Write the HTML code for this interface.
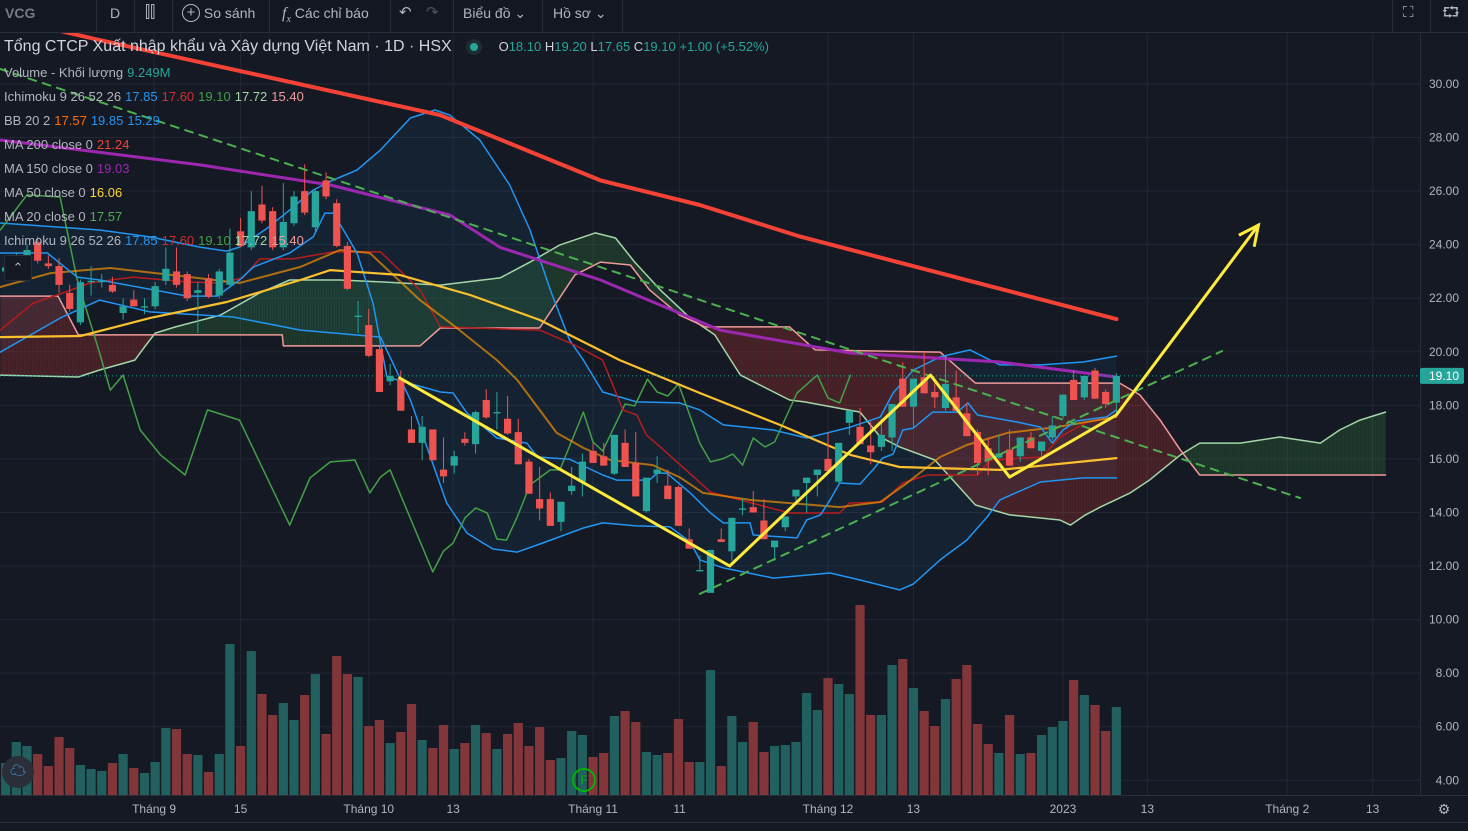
<!DOCTYPE html>
<html><head><meta charset="utf-8">
<style>
html,body{margin:0;padding:0;background:#151924;width:1468px;height:831px;overflow:hidden;font-family:"Liberation Sans","Noto Sans CJK SC",sans-serif;}
#root{position:relative;width:1468px;height:831px;}
svg{position:absolute;left:0;top:0;}
.tb{position:absolute;top:0;height:32px;line-height:26px;color:#b2b5be;font-size:14px;}
.sep{position:absolute;top:0;width:1px;height:32px;background:#2a2e39;}
.lg{position:absolute;left:4px;font-size:13px;color:#b2b5be;white-space:nowrap;}
.lg span{margin-left:4px;}
</style></head>
<body><div id="root">
<svg id="chart" width="1468" height="831"></svg>

<div style="position:absolute;left:0;top:0;width:1468px;height:32px;background:#131722;border-bottom:1px solid #2a2e39;"></div>
<div class="tb" style="left:5px;font-weight:bold;color:#787b86;font-size:14px;">VCG</div>
<div class="sep" style="left:96px"></div>
<div class="tb" style="left:110px;">D</div>
<div class="sep" style="left:134px"></div>
<div class="tb" style="left:145px;font-size:16px;">&#x2AFF;&#x2AFF;</div>
<div class="sep" style="left:172px"></div>
<div class="tb" style="left:182px;"><span style="display:inline-block;width:16px;height:16px;border:1px solid #b2b5be;border-radius:50%;line-height:15px;text-align:center;font-size:15px;vertical-align:middle;margin-top:-3px;">+</span> So sánh</div>
<div class="sep" style="left:269px"></div>
<div class="tb" style="left:282px;"><i style="font-family:'Liberation Serif',serif;font-size:16px;">f<sub style="font-size:10px">x</sub></i> Các chỉ báo</div>
<div class="sep" style="left:390px"></div>
<div class="tb" style="left:399px;font-size:15px;">&#x21B6;</div>
<div class="tb" style="left:426px;font-size:15px;color:#50535e;">&#x21B7;</div>
<div class="sep" style="left:453px"></div>
<div class="tb" style="left:463px;">Biểu đồ &#x2304;</div>
<div class="sep" style="left:542px"></div>
<div class="tb" style="left:553px;">Hồ sơ &#x2304;</div>
<div class="sep" style="left:622px"></div>
<div class="sep" style="left:1392px"></div>
<div class="tb" style="left:1403px;font-size:15px;">&#x26F6;</div>
<div class="sep" style="left:1430px"></div>
<div class="tb" style="left:1442px;font-size:15px;">&#x2B94;</div>

<div class="lg" style="top:38px;font-size:16px;color:#d1d4dc;">Tổng CTCP Xuất nhập khẩu và Xây dựng Việt Nam · 1D · HSX
 <span style="display:inline-block;width:16px;height:16px;border-radius:50%;background:#1e2d33;vertical-align:middle;margin-left:10px;position:relative;"><span style="position:absolute;left:4px;top:4px;width:8px;height:8px;border-radius:50%;background:#26a69a;margin:0"></span></span>
 <span style="font-size:13px;margin-left:12px;color:#d1d4dc">O<b style="color:#26a69a;font-weight:normal">18.10</b> H<b style="color:#26a69a;font-weight:normal">19.20</b> L<b style="color:#26a69a;font-weight:normal">17.65</b> C<b style="color:#26a69a;font-weight:normal">19.10</b> <b style="color:#26a69a;font-weight:normal">+1.00 (+5.52%)</b></span></div>
<div class="lg" style="top:65px;">Volume - Khối lượng<span style="color:#26a69a">9.249M</span></div>
<div class="lg" style="top:89px;">Ichimoku 9 26 52 26<span style="color:#2196f3">17.85</span><span style="color:#d32f2f">17.60</span><span style="color:#43a047">19.10</span><span style="color:#a5d6a7">17.72</span><span style="color:#ef9a9a">15.40</span></div>
<div class="lg" style="top:113px;">BB 20 2<span style="color:#ff6d00">17.57</span><span style="color:#2196f3">19.85</span><span style="color:#2196f3">15.29</span></div>
<div class="lg" style="top:137px;">MA 200 close 0<span style="color:#f44336">21.24</span></div>
<div class="lg" style="top:161px;">MA 150 close 0<span style="color:#9c27b0">19.03</span></div>
<div class="lg" style="top:185px;">MA 50 close 0<span style="color:#fdd835">16.06</span></div>
<div class="lg" style="top:209px;">MA 20 close 0<span style="color:#4caf50">17.57</span></div>
<div class="lg" style="top:233px;">Ichimoku 9 26 52 26<span style="color:#2196f3">17.85</span><span style="color:#d32f2f">17.60</span><span style="color:#43a047">19.10</span><span style="color:#a5d6a7">17.72</span><span style="color:#ef9a9a">15.40</span></div>
<div style="position:absolute;left:4px;top:255px;width:26px;height:24px;border:1px solid #2a2e39;border-radius:3px;background:#151924;color:#b2b5be;font-size:13px;text-align:center;line-height:24px;">&#x2303;</div>
<div style="position:absolute;left:2px;top:756px;width:32px;height:32px;border-radius:50%;background:#2a2e39;color:#42a5f5;text-align:center;line-height:32px;font-size:16px;">&#x2601;</div>
<div style="position:absolute;left:572px;top:768px;width:20px;height:20px;border:2px solid #00b300;border-radius:50%;color:#00b300;font-size:12px;text-align:center;line-height:20px;">F</div>

<script>
// ---- data ----
const firstIndex = -2;
const candles = [
[23.0,23.3,22.9,23.15],[23.3,23.7,23.1,23.5],
[23.5,24.0,23.3,23.8],[24.1,24.3,23.3,23.4],[23.3,23.6,23.1,23.2],[23.2,23.5,22.2,22.5],[22.2,22.5,21.5,21.6],
[21.1,22.7,21.0,22.6],[22.6,23.2,22.1,22.65],[22.6,22.9,22.4,22.65],[22.5,22.8,22.2,22.25],[21.45,22.0,21.2,21.7],
[21.95,22.3,21.7,21.7],[21.65,22.0,21.4,21.7],[21.7,22.6,21.6,22.45],[22.65,23.9,22.5,23.1],[23.0,23.9,22.4,22.5],
[22.9,23.0,21.9,22.0],[22.2,22.6,20.7,22.3],[22.75,22.9,22.0,22.05],[22.1,23.1,22.0,23.0],[22.5,24.6,22.4,23.7],
[24.5,25.0,23.9,23.95],[23.9,26.0,23.8,25.25],[25.5,26.2,24.8,24.9],[25.25,25.4,23.8,23.9],[23.9,26.3,23.8,24.85],
[24.8,26.0,24.7,25.8],[26.0,27.0,25.1,25.2],[24.65,26.1,24.5,26.0],[26.4,26.7,25.7,25.8],[25.55,25.7,23.9,23.95],
[23.95,24.1,22.3,22.35],[21.3,21.9,20.7,21.35],[21.0,21.6,19.8,19.85],[20.1,20.2,18.5,18.5],[18.9,19.55,18.75,19.1],
[19.0,19.3,17.8,17.8],[17.1,17.6,16.6,16.6],[16.6,17.6,15.95,17.2],[17.1,17.1,15.95,15.95],[15.6,16.8,15.1,15.35],
[15.75,16.3,15.45,16.1],[16.75,17.0,16.5,16.6],[16.55,17.8,16.2,17.75],[18.2,18.6,17.5,17.55],[17.7,18.5,17.1,17.75],
[17.5,18.35,16.9,16.95],[17.0,17.5,15.8,15.8],[15.9,16.0,14.7,14.7],[14.5,15.7,13.7,14.15],[14.5,14.75,13.5,13.5],
[13.65,14.4,13.3,14.4],[14.8,15.7,14.65,15.0],[15.15,16.2,14.6,15.9],[16.3,16.6,15.85,15.85],[16.1,16.6,15.75,15.75],
[15.45,16.9,15.4,16.9],[16.6,17.1,15.7,15.7],[15.85,17.0,14.6,14.6],[14.05,15.3,14.0,15.3],[15.45,16.1,15.1,15.6],
[15.0,15.6,14.5,14.5],[14.95,15.0,13.5,13.5],[13.0,13.4,12.65,12.65],[11.8,12.4,11.8,11.85],[11.0,12.6,11.0,12.6],
[13.0,13.4,12.9,12.9],[12.55,13.8,12.2,13.8],[14.1,14.5,13.9,14.15],[14.2,14.8,14.0,14.0],[13.7,14.5,13.0,13.0],
[12.7,12.95,12.2,12.95],[13.45,13.85,13.3,13.85],[14.6,14.85,14.4,14.85],[15.1,15.3,14.0,15.3],[15.4,15.6,14.6,15.6],
[16.0,17.0,15.5,15.55],[15.15,16.6,15.1,16.6],[17.35,17.8,16.9,17.8],[17.2,17.9,16.55,16.55],[16.5,17.4,15.8,16.25],
[16.45,17.5,16.3,16.9],[16.8,18.05,16.3,18.05],[19.0,19.6,17.95,17.95],[17.95,19.0,17.2,19.0],[19.05,20.0,18.45,18.45],
[18.5,18.9,17.9,18.3],[17.9,19.8,17.8,18.8],[18.3,19.3,17.8,17.8],[17.7,18.1,16.85,16.85],[17.0,17.1,15.4,15.85],
[16.4,16.8,15.4,15.95],[16.05,16.9,16.0,16.2],[16.35,17.1,15.75,15.75],[16.1,16.8,15.9,16.8],[16.8,17.0,16.4,16.4],
[16.3,16.65,16.1,16.65],[16.8,17.6,16.7,17.25],[17.6,18.4,17.5,18.4],[18.95,19.3,18.2,18.2],[18.3,19.1,18.2,19.1],
[19.3,19.4,18.25,18.25],[18.5,18.6,17.9,18.05],[18.1,19.2,17.65,19.1]];
// volume in units of ~0.105M shares
const volumes = [32,53,49,41,29,58,47,30,26,24,32,41,27,22,33,67,66,41,40,23,41,151,49,144,101,80,92,75,100,121,61,139,121,118,69,75,52,63,91,55,47,70,46,52,70,62,46,61,72,49,68,35,
37,64,60,38,42,79,84,73,43,40,42,76,33,33,125,29,79,53,73,43,49,50,53,102,85,117,111,101,190,80,80,130,136,107,84,69,96,116,130,71,51,42,80,41,42,60,68,74,115,100,90,64,88];
const ma200 = [[-2.5,32.5],[6.8,31.64],[38.7,28.84],[53.7,26.4],[63,25.48],[72.4,24.3],[102,21.22]];
const ma150 = [[-2.5,27.91],[16.2,26.98],[28.4,26.23],[39.6,25.11],[44.3,23.9],[53.7,22.68],[64.9,20.81],[77,19.96],[91.1,19.62],[102,19.06]];
const ma50 = [[-2.5,20.55],[5,20.59],[11.5,21.26],[18.7,21.86],[25.6,22.68],[28.4,23.05],[34.9,22.87],[41.5,22.12],[48,21.19],[55.5,19.69],[63,18.46],[70.5,17.27],[77.1,16.15],[81.7,15.7],[91.1,15.59],[102,16.03]];
const bbBasis = [[-2.5,22.42],[2.2,22.94],[7.8,23.13],[15.3,22.79],[19.9,22.57],[25.6,23.17],[29.3,23.8],[32.1,23.69],[36.8,21.93],[40.5,20.81],[44,19.69],[45.9,18.95],[49.6,16.97],[52.1,16.41],[54.6,15.96],[58.6,15.77],[61.1,15.32],[63.3,14.73],[67.7,14.47],[76.1,14.2],[79.9,14.39],[82.4,15.1],[85.5,16.07],[88,16.52],[91.8,16.97],[96.4,17.19],[102,17.57]];
const bbUpper = [[-2.5,24.81],[6.8,24.55],[11.5,24.29],[16.2,23.91],[18.7,23.76],[19.9,23.91],[22.5,24.62],[24.6,25.29],[26.8,26.04],[28.7,26.42],[30.9,26.79],[33.1,27.54],[35.9,28.73],[38.2,29.03],[39.6,28.84],[42.4,27.91],[45.2,26.23],[47.1,24.55],[49,22.31],[50.8,20.44],[52.1,19.69],[53.9,18.5],[57.1,18.13],[61.1,18.09],[63,17.83],[65.2,17.27],[69.9,17.08],[73,16.78],[77.1,17.19],[79.9,17.57],[81.1,18.46],[83,19.32],[85.5,19.81],[88.3,20.07],[91.1,19.51],[94.9,19.51],[98.9,19.62],[102,19.84]];
const bbLower = [[-2.5,19.99],[3.1,21.26],[6.8,21.93],[11.5,21.49],[19.3,21.3],[25.6,20.81],[33.1,20.55],[35.9,18.2],[39.3,14.35],[41.2,13.23],[43.6,12.64],[45.9,12.52],[48.3,12.86],[52.1,13.42],[53.9,13.61],[57.1,13.5],[60.2,13.46],[62.1,12.9],[63,12.23],[65.2,11.93],[69.9,11.55],[75.2,11.74],[78,11.48],[81.7,11.11],[83,11.33],[85.5,12.23],[88,12.97],[89.9,13.83],[91.1,14.47],[94.9,15.14],[98.9,15.29],[102,15.29]];
const tenkan = [[-2.5,23.69],[1.9,23.69],[4.7,22.79],[6.8,22.68],[15,22.08],[17.8,22.08],[19.9,22.68],[21.2,23.17],[24.6,23.69],[26.8,24.29],[27.9,25.18],[28.7,25.18],[30.9,23.69],[32.4,21.82],[33.7,19.06],[38.7,18.5],[39.9,18.46],[41.2,17.71],[44,16.78],[46.8,16.59],[47.8,16.07],[50.8,15.99],[53.9,15.4],[55.2,15.21],[58.3,15.21],[59,15.47],[59.9,15.47],[62.1,14.73],[64,13.98],[65.2,13.61],[67.7,13.61],[68,13.16],[72.1,13.05],[73,13.72],[74.3,13.91],[75.2,14.47],[76.1,15.1],[78,15.06],[79.2,15.59],[80.1,16.03],[81.1,16.18],[82,17.08],[83,17.15],[84.8,17.75],[87.1,17.75],[88.1,18.09],[89,17.64],[92.7,17.38],[94.9,17.19],[96,16.59],[97,17.08],[98.3,17.42],[101.1,17.57],[102,17.83]];
const kijun = [[-2.5,20.81],[0.6,21.82],[3.1,22.16],[5.9,22.57],[9.9,22.79],[15,22.61],[18.1,22.57],[20.2,22.76],[21.8,23.47],[24.9,23.47],[28.7,23.73],[33.1,23.73],[36.8,22.31],[38.7,20.93],[48,20.81],[51.3,20.25],[53.9,19.69],[55.8,17.83],[57.1,17.64],[58,16.89],[59.3,16.45],[64,14.76],[71.4,13.98],[76.1,13.98],[77,14.35],[80.1,14.39],[82,15.1],[84.3,15.4],[89,15.4],[90.2,15.96],[95.1,16.07],[96.7,16.82],[99.3,17.38],[102,17.57]];
const lagging = [[-2.5,24.55],[0,25.86],[3.1,25.78],[4.7,22.68],[6.8,19.96],[7.8,18.57],[9,19.13],[10.6,17.08],[12.5,16.15],[14.8,15.4],[16.9,17.83],[19.9,17.45],[24.6,13.53],[26.5,15.29],[28.4,15.89],[30.7,15.96],[32.1,14.73],[33.1,15.32],[34,15.59],[38,11.78],[39,12.56],[39.9,12.86],[41,13.79],[42,14.17],[43.1,13.98],[44,13.01],[44.9,12.97],[45.9,13.83],[47.1,15.03],[49,15.59],[49.9,15.59],[52.1,17.75],[53,16.63],[53.9,16.3],[56,18.05],[56.9,17.98],[58.1,18.98],[59,18.5],[60,18.35],[61,18.8],[63,16.59],[64,15.89],[65.1,16],[66.1,16.18],[67,15.77],[68,16.78],[69.1,16.45],[70,16.63],[72.1,18.46],[74,19.13],[75,18.27],[76.1,18.09],[77.1,19.13]];
const spanA = [[-2.5,19.13],[4.8,19.06],[6.8,19.32],[10.1,19.69],[11,20.18],[12,20.7],[13.9,20.93],[18.1,21.37],[21.8,22.2],[24.6,22.68],[29.3,22.68],[33.1,22.61],[38.7,22.49],[44.3,22.76],[47.1,23.35],[49.9,23.99],[53.2,24.44],[55.1,24.25],[56.9,23.35],[59.3,22.31],[62.1,21.26],[64.4,20.63],[66.8,19.13],[71.4,18.2],[72.8,18.13],[78,17.75],[79.9,16.82],[81.7,16.45],[85,15.96],[88.8,14.28],[92,13.91],[96.7,13.72],[97.7,13.53],[99.1,13.91],[100.5,14.2],[103.3,14.73],[105.1,15.21],[108,16.15],[109.8,16.59],[113.6,16.59],[117.3,16.82],[121.1,16.59],[122.9,17.08],[124.8,17.45],[127.2,17.75]];
const spanB = [[-2.5,22.08],[2.9,22.08],[4.8,20.63],[23.9,20.63],[24,20.22],[36.8,20.22],[38.7,20.89],[48,20.89],[51.3,22.87],[53.7,23.35],[56.5,23.24],[58.3,22.31],[61.1,21.37],[63.5,20.93],[71.4,20.93],[73.8,20.07],[85.5,19.99],[88.8,18.83],[102.3,18.83],[104.2,18.39],[106.1,17.45],[108,16.33],[109.8,15.4],[127.2,15.4]];
const priceTicks = [30,28,26,24,22,20,18,16,14,12,10,8,6,4];
const priceTickLabels = ["30.00","28.00","26.00","24.00","22.00","20.00","18.00","16.00","14.00","12.00","10.00","8.00","6.00","4.00"];
const timeTickIdx = [11.9,20,32,39.9,53,61.1,75,83,97,104.9,118,126];
const timeTickLabels = ["Tháng 9","15","Tháng 10","13","Tháng 11","11","Tháng 12","13","2023","13","Tháng 2","13"];
const lastPrice = 19.10;
const zigzag = [[34.9,19.02],[65.8,12.0],[84.6,19.13],[92,15.32],[102,17.64],[115.3,24.73]];
const trend1 = [[-2.53,30.56],[119.2,14.54]];
const trend2 = [[63,10.96],[111.9,20.03]];

// ---- axes ----
const X0 = 27, DX = 10.68;
function xOf(i){ return X0 + DX*i; }
function yOf(p){ return 84 + (30-p)*26.78; }
function yVol(v){ return 795 - v; }

const NS = 'http://www.w3.org/2000/svg';
const svg = document.getElementById('chart');
function mk(tag, attrs, parent){
  const e = document.createElementNS(NS, tag);
  for (const k in attrs) e.setAttribute(k, attrs[k]);
  (parent||svg).appendChild(e);
  return e;
}
function interp(arr, t){
  if (t <= arr[0][0]) return arr[0][1];
  for (let k=1;k<arr.length;k++){
    if (t <= arr[k][0]){ const a=arr[k-1], b=arr[k]; return a[1]+(b[1]-a[1])*(t-a[0])/(b[0]-a[0]); }
  }
  return arr[arr.length-1][1];
}
function ptsStr(arr){ return arr.map(p=>xOf(p[0]).toFixed(1)+','+yOf(p[1]).toFixed(1)).join(' '); }

// clip for plotting area
const defs = mk('defs',{});
const cp = mk('clipPath',{id:'plot'},defs);
mk('rect',{x:0,y:33,width:1420,height:762},cp);

// grid
const grid = mk('g',{});


priceTicks.forEach(p=>{ mk('line',{x1:0,x2:1420,y1:yOf(p),y2:yOf(p),stroke:'#232734','stroke-width':1},grid); });
timeTickIdx.forEach(t=>{ mk('line',{x1:xOf(t),x2:xOf(t),y1:33,y2:795,stroke:'#232734','stroke-width':1},grid); });

const plot = mk('g',{'clip-path':'url(#plot)'});



// BB fill
let bbPts = bbUpper.map(p=>xOf(p[0])+','+yOf(p[1])).concat(bbLower.slice().reverse().map(p=>xOf(p[0])+','+yOf(p[1]))).join(' ');
const bbFill = mk('polygon',{points:bbPts,fill:'rgba(33,150,243,0.07)'},plot);



// cloud fill
const cloud = mk('g',{},plot);


for (let t=-2.5; t<127.2; t+=0.25){
  const t2=Math.min(t+0.25,127.2);
  const a1=interp(spanA,t), b1=interp(spanB,t), a2=interp(spanA,t2), b2=interp(spanB,t2);
  const green = (a1+a2) > (b1+b2);
  mk('polygon',{points:[xOf(t),yOf(a1),xOf(t2)+0.3,yOf(a2),xOf(t2)+0.3,yOf(b2),xOf(t),yOf(b1)].join(' '),fill:green?'rgba(67,160,71,0.2)':'rgba(244,67,54,0.2)'},cloud);
}

// volume
const volG = mk('g',{},plot);


volumes.forEach((v,k)=>{
  const i = firstIndex + k; const c = candles[k];
  const up = c[3] >= c[0];
  const r = mk('rect',{x:xOf(i)-4.6,y:yVol(v),width:9.2,height:795-yVol(v),fill:up?'#21605f':'#82363a'},volG);
  
  
});

function line(arr, color, w, name, dash){
  const e = mk('polyline',{points:ptsStr(arr),fill:'none',stroke:color,'stroke-width':w,'stroke-linejoin':'round','stroke-linecap':'round'},plot);
  if (dash) e.setAttribute('stroke-dasharray',dash);
  
  
  return e;
}
line(spanA,'#a5d6a7',1.5,'span-a-line');
line(spanB,'#ef9a9a',1.5,'span-b-line');
line(bbUpper,'#2196f3',1.5,'bb-upper-line');
line(bbLower,'#2196f3',1.5,'bb-lower-line');
line(lagging,'#43a047',1.5,'lagging-span-line');
line(kijun,'#b71c1c',1.5,'kijun-line');
line(bbBasis,'rgba(255,152,0,0.65)',2,'bb-basis-line');
line(tenkan,'#2196f3',1.5,'tenkan-line');
line(ma50,'#fbc02d',2.2,'ma50-line');
line(ma150,'#9c27b0',3,'ma150-line');
line(ma200,'#f44336',4,'ma200-line');

// last price line
const lp = mk('line',{x1:0,x2:1420,y1:yOf(lastPrice),y2:yOf(lastPrice),stroke:'#26a69a','stroke-width':1,'stroke-dasharray':'1,3'},plot);



// candles
const cg = mk('g',{},plot);


candles.forEach((c,k)=>{
  const i = firstIndex + k; const x = xOf(i);
  const up = c[3] >= c[0]; const col = up?'#26a69a':'#ef5350';
  const w = mk('line',{x1:x,x2:x,y1:yOf(c[1]),y2:yOf(c[2]),stroke:col,'stroke-width':1},cg);
  
  
  const top = yOf(Math.max(c[0],c[3])), bot = yOf(Math.min(c[0],c[3]));
  const b = mk('rect',{x:x-3.6,y:top,width:7.2,height:Math.max(1.2,bot-top),fill:col},cg);
  
  
});

// drawings
line(trend1,'#4caf50',2,'trendline-down','8,7');
line(trend2,'#4caf50',2,'trendline-up','8,7');
const zz = line(zigzag,'#ffeb3b',3,'zigzag-arrow-drawing');
(function(){
  const a = zigzag[zigzag.length-2], b = zigzag[zigzag.length-1];
  const x1=xOf(a[0]),y1=yOf(a[1]),x2=xOf(b[0]),y2=yOf(b[1]);
  const ang=Math.atan2(y2-y1,x2-x1), L=22;
  const h = mk('polyline',{points:[x2-L*Math.cos(ang-0.45),y2-L*Math.sin(ang-0.45),x2,y2,x2-L*Math.cos(ang+0.45),y2-L*Math.sin(ang+0.45)].join(' '),fill:'none',stroke:'#ffeb3b','stroke-width':3},plot);
  
  
})();

// price axis
const ax = mk('g',{});


mk('rect',{x:1420,y:33,width:48,height:762,fill:'#151924'},ax);
mk('line',{x1:1420.5,x2:1420.5,y1:33,y2:822,stroke:'#2a2e39'},ax);
priceTicks.forEach((p,k)=>{
  const t = mk('text',{x:1459,y:yOf(p)+4,'text-anchor':'end','font-size':12,fill:'#b2b5be','font-family':'Liberation Sans, sans-serif'},ax);
  t.textContent = priceTickLabels[k];
  
  
});
const tag = mk('rect',{x:1420,y:yOf(lastPrice)-8,width:44,height:16,fill:'#26a69a',rx:2},ax);


const tagT = mk('text',{x:1459,y:yOf(lastPrice)+4,'text-anchor':'end','font-size':12,fill:'#ffffff','font-family':'Liberation Sans, sans-serif'},ax);
tagT.textContent = lastPrice.toFixed(2);



// time axis
const tx = mk('g',{});


mk('rect',{x:0,y:795,width:1468,height:36,fill:'#151924'},tx);
mk('line',{x1:0,x2:1468,y1:795.5,y2:795.5,stroke:'#2a2e39'},tx);
mk('line',{x1:0,x2:1468,y1:822.5,y2:822.5,stroke:'#2a2e39'},tx);
timeTickIdx.forEach((t,k)=>{
  const e = mk('text',{x:xOf(t),y:813,'text-anchor':'middle','font-size':12,fill:'#b2b5be','font-family':'Liberation Sans, sans-serif'},tx);
  e.textContent = timeTickLabels[k];
  
  
});
const gear = mk('text',{x:1444,y:814,'text-anchor':'middle','font-size':14,fill:'#b2b5be'},tx);
gear.textContent = '\u2699';


</script>
</div></body></html>
